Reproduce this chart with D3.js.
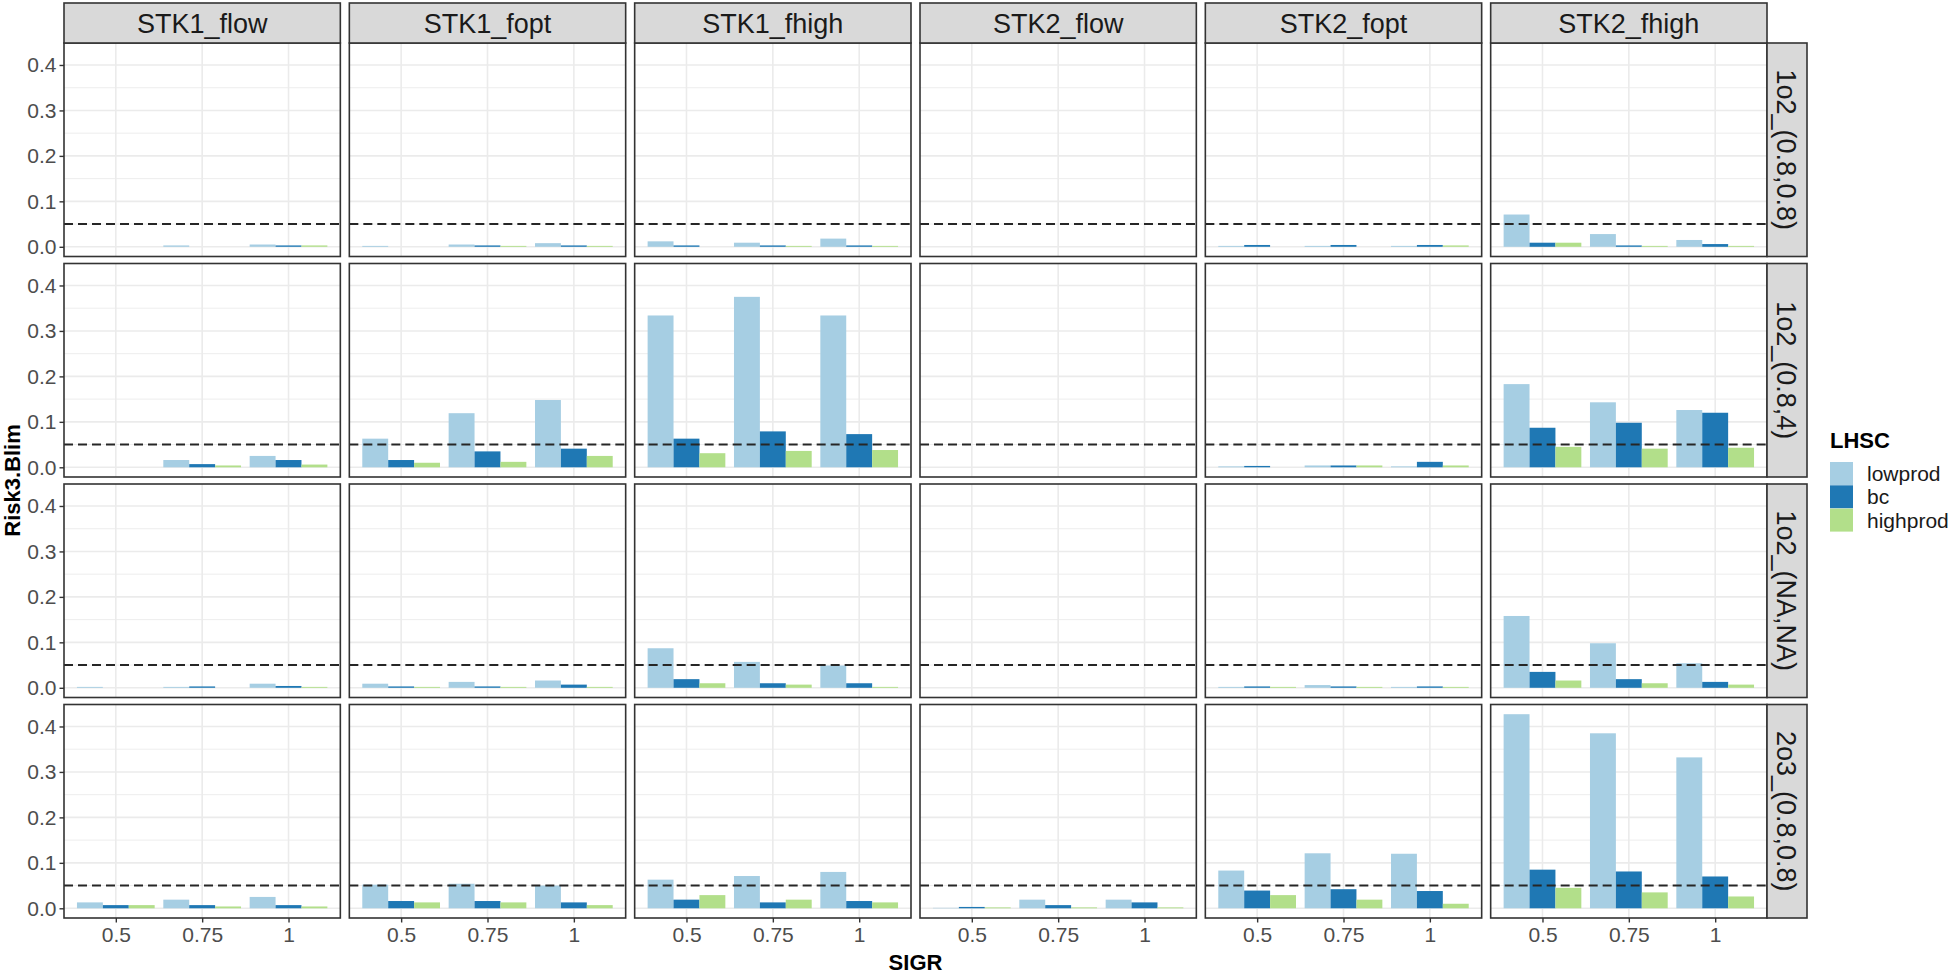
<!DOCTYPE html>
<html>
<head>
<meta charset="utf-8">
<script src="https://cdn.jsdelivr.net/npm/d3@7"></script>
<style>
  body { margin: 0; background: #fff; }
  text { font-family: "Liberation Sans", Arial, sans-serif; }
</style>
</head>
<body>
<script>
// facet columns / rows and levels
var stocks = ["STK1_flow", "STK1_fopt", "STK1_fhigh", "STK2_flow", "STK2_fopt", "STK2_fhigh"];
var scenarios = ["1o2_(0.8,0.8)", "1o2_(0.8,4)", "1o2_(NA,NA)", "2o3_(0.8,0.8)"];
var sigr = ["0.5", "0.75", "1"];
var lhsc = ["lowprod", "bc", "highprod"];
var lhscColors = ["#a6cee3", "#1f78b4", "#b2df8a"];
var yTicks = [0, 0.1, 0.2, 0.3, 0.4];
var refLine = 0.05;

// Risk3.Blim values [scenario][stock][sigr]
var lowprod = [
  [[0, 0.003, 0.005], [0.002, 0.005, 0.008], [0.012, 0.009, 0.018], [0, 0, 0], [0.002, 0.002, 0.002], [0.071, 0.028, 0.015]],
  [[0, 0.016, 0.025], [0.063, 0.119, 0.148], [0.334, 0.375, 0.334], [0, 0, 0], [0.002, 0.004, 0.002], [0.183, 0.143, 0.126]],
  [[0.002, 0.002, 0.009], [0.009, 0.013, 0.016], [0.087, 0.057, 0.049], [0, 0, 0], [0.002, 0.006, 0.002], [0.158, 0.098, 0.054]],
  [[0.013, 0.019, 0.025], [0.052, 0.054, 0.05], [0.063, 0.071, 0.08], [0.001, 0.019, 0.019], [0.083, 0.121, 0.12], [0.427, 0.385, 0.332]]
];
var bc = [
  [[0, 0, 0.003], [0, 0.003, 0.003], [0.003, 0.003, 0.003], [0, 0, 0], [0.004, 0.004, 0.004], [0.009, 0.003, 0.006]],
  [[0, 0.007, 0.016], [0.016, 0.035, 0.041], [0.063, 0.079, 0.073], [0, 0, 0], [0.003, 0.004, 0.012], [0.087, 0.098, 0.12]],
  [[0, 0.003, 0.004], [0.003, 0.003, 0.007], [0.019, 0.01, 0.01], [0, 0, 0], [0.003, 0.003, 0.003], [0.035, 0.019, 0.013]],
  [[0.007, 0.007, 0.007], [0.016, 0.016, 0.013], [0.019, 0.013, 0.016], [0.003, 0.007, 0.013], [0.039, 0.042, 0.038], [0.085, 0.081, 0.07]]
];
var highprod = [
  [[0, 0, 0.003], [0, 0.002, 0.002], [0, 0.002, 0.002], [0, 0, 0], [0, 0, 0.003], [0.009, 0.002, 0.002]],
  [[0, 0.004, 0.006], [0.01, 0.012, 0.025], [0.031, 0.036, 0.038], [0, 0, 0], [0, 0.004, 0.004], [0.045, 0.041, 0.043]],
  [[0, 0, 0.002], [0.002, 0.002, 0.002], [0.01, 0.007, 0.002], [0, 0, 0], [0.002, 0.002, 0.002], [0.016, 0.01, 0.007]],
  [[0.007, 0.004, 0.004], [0.013, 0.013, 0.007], [0.029, 0.019, 0.013], [0.002, 0.002, 0.002], [0.029, 0.019, 0.01], [0.045, 0.035, 0.026]]
];
var series = [lowprod, bc, highprod];

// long format rows
var rows = [];
scenarios.forEach(function(sc, r) {
  stocks.forEach(function(st, c) {
    sigr.forEach(function(sg, k) {
      lhsc.forEach(function(l, j) {
        rows.push({ row: r, col: c, sigr: sg, lhsc: l, j: j, value: series[j][r][c][k] });
      });
    });
  });
});

var W = 1955, H = 974;
var plotL = 64, plotR = 1767, plotT = 43, plotB = 918;
var gapX = 9, gapY = 7, stripH = 40, stripW = 40;
var panelW = (plotR - plotL - gapX * (stocks.length - 1)) / stocks.length;
var panelH = (plotB - plotT - gapY * (scenarios.length - 1)) / scenarios.length;

var svg = d3.select("body").append("svg")
  .attr("width", W)
  .attr("height", H);

var maxV = d3.max(rows, function(d) { return d.value; });
var y = d3.scaleLinear()
  .domain([-0.05 * maxV, 1.05 * maxV])
  .range([panelH, 0]);

var x = d3.scalePoint().domain(sigr).range([0, panelW]).padding(0.6);
var barW = x.step() * 0.3;

var color = d3.scaleOrdinal().domain(lhsc).range(lhscColors);

scenarios.forEach(function(sc, r) {
  stocks.forEach(function(st, c) {
    var px = plotL + c * (panelW + gapX),
        py = plotT + r * (panelH + gapY);
    var g = svg.append("g").attr("transform", "translate(" + px + "," + py + ")");

    g.append("rect").attr("width", panelW).attr("height", panelH).style("fill", "#fff");

    // minor grid
    g.selectAll(".minor")
      .data(yTicks.slice(0, -1).map(function(t) { return t + 0.05; }))
      .enter().append("line")
      .attr("x1", 0).attr("x2", panelW)
      .attr("y1", function(d) { return y(d); })
      .attr("y2", function(d) { return y(d); })
      .style("stroke", "#ebebeb").style("stroke-width", 0.9);

    // major grid
    g.selectAll(".major")
      .data(yTicks)
      .enter().append("line")
      .attr("x1", 0).attr("x2", panelW)
      .attr("y1", function(d) { return y(d); })
      .attr("y2", function(d) { return y(d); })
      .style("stroke", "#ebebeb").style("stroke-width", 1.6);

    g.selectAll(".vmajor")
      .data(sigr)
      .enter().append("line")
      .attr("x1", function(d) { return x(d); })
      .attr("x2", function(d) { return x(d); })
      .attr("y1", 0).attr("y2", panelH)
      .style("stroke", "#ebebeb").style("stroke-width", 1.6);

    var cell = rows.filter(function(d) { return d.row == r && d.col == c; });
    g.selectAll(".bar")
      .data(cell)
      .enter().append("rect")
      .attr("x", function(d) { return x(d.sigr) + (d.j - 1.5) * barW; })
      .attr("width", barW)
      .attr("y", function(d) { return y(Math.max(d.value, 0)); })
      .attr("height", function(d) { return Math.abs(y(0) - y(d.value)); })
      .style("fill", function(d) { return color(d.lhsc); });

    g.append("line")
      .attr("x1", 0).attr("x2", panelW)
      .attr("y1", y(refLine)).attr("y2", y(refLine))
      .style("stroke", "#262626")
      .style("stroke-width", 2)
      .style("stroke-dasharray", "9,5");

    g.append("rect").attr("width", panelW).attr("height", panelH)
      .style("fill", "none").style("stroke", "#333").style("stroke-width", 1.6);

    // y axis on first column
    if (c == 0) {
      var ya = g.append("g")
        .call(d3.axisLeft(y).tickValues(yTicks).tickFormat(d3.format(".1f")).tickSize(4.5).tickPadding(3));
      ya.select(".domain").remove();
      ya.selectAll("line").style("stroke", "#333").style("stroke-width", 1.4);
      ya.selectAll("text").style("font-size", "21px").style("fill", "#4d4d4d")
        .style("font-family", "'Liberation Sans', Arial, sans-serif");
    }

    // x axis on last row
    if (r == scenarios.length - 1) {
      var xa = g.append("g")
        .attr("transform", "translate(0," + panelH + ")")
        .call(d3.axisBottom(x).tickSize(4.5).tickPadding(5));
      xa.select(".domain").remove();
      xa.selectAll("line").style("stroke", "#333").style("stroke-width", 1.4);
      xa.selectAll("text").style("font-size", "21px").style("fill", "#4d4d4d")
        .style("font-family", "'Liberation Sans', Arial, sans-serif");
    }

    // top strips
    if (r == 0) {
      svg.append("rect")
        .attr("x", px).attr("y", plotT - stripH)
        .attr("width", panelW).attr("height", stripH)
        .style("fill", "#d9d9d9").style("stroke", "#333").style("stroke-width", 1.6);
      svg.append("text")
        .attr("x", px + panelW / 2).attr("y", plotT - stripH / 2)
        .attr("dy", "0.36em")
        .style("text-anchor", "middle")
        .style("font-size", "27px")
        .style("fill", "#1a1a1a")
        .text(st);
    }

    // right strips
    if (c == stocks.length - 1) {
      svg.append("rect")
        .attr("x", px + panelW).attr("y", py)
        .attr("width", stripW).attr("height", panelH)
        .style("fill", "#d9d9d9").style("stroke", "#333").style("stroke-width", 1.6);
      svg.append("text")
        .attr("transform", "translate(" + (px + panelW + stripW / 2) + "," + (py + panelH / 2) + ") rotate(90)")
        .attr("dy", "0.36em")
        .style("text-anchor", "middle")
        .style("font-size", "27px")
        .style("fill", "#1a1a1a")
        .text(sc);
    }
  });
});

// axis titles
svg.append("text")
  .attr("transform", "translate(20," + (plotT + plotB) / 2 + ") rotate(-90)")
  .style("text-anchor", "middle")
  .style("font-weight", "bold")
  .style("font-size", "22px")
  .text("Risk3.Blim");

svg.append("text")
  .attr("x", (plotL + plotR) / 2)
  .attr("y", 970)
  .style("text-anchor", "middle")
  .style("font-weight", "bold")
  .style("font-size", "22px")
  .text("SIGR");

// legend
var legend = svg.append("g").attr("transform", "translate(1830,0)");
legend.append("text")
  .attr("x", 0).attr("y", 448)
  .style("font-weight", "bold")
  .style("font-size", "22px")
  .text("LHSC");

var keys = legend.selectAll(".key")
  .data(lhsc)
  .enter().append("g")
  .attr("transform", function(d, i) { return "translate(0," + (462 + i * 23.3) + ")"; });

keys.append("rect")
  .attr("width", 23).attr("height", 23)
  .style("fill", function(d) { return color(d); });

keys.append("text")
  .attr("x", 37).attr("y", 11.5)
  .attr("dy", "0.36em")
  .style("font-size", "21px")
  .style("fill", "#1a1a1a")
  .text(function(d) { return d; });
</script>
</body>
</html>
